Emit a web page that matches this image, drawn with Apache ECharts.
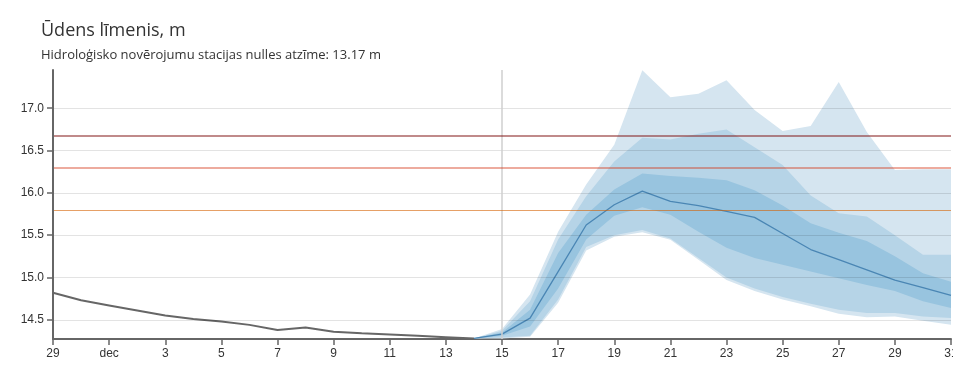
<!DOCTYPE html>
<html>
<head>
<meta charset="utf-8">
<script src="https://cdn.jsdelivr.net/npm/echarts@6/dist/echarts.min.js"></script>
<style>
html,body{margin:0;padding:0;background:#fff;}
#chart{width:953px;height:370px;}
</style>
</head>
<body>
<div id="chart"></div>
<script>
// Days shown on the x axis (Nov 29 .. Dec 31)
const days = ['11-29','11-30','12-01','12-02','12-03','12-04','12-05','12-06','12-07','12-08','12-09','12-10','12-11','12-12','12-13','12-14','12-15','12-16','12-17','12-18','12-19','12-20','12-21','12-22','12-23','12-24','12-25','12-26','12-27','12-28','12-29','12-30','12-31'];
const monthNames = {'12':'dec','01':'jan','11':'nov'};

// Observed water level Nov 29 .. Dec 14
const observed = [14.82,14.73,14.67,14.61,14.55,14.51,14.48,14.44,14.38,14.41,14.36,14.34,14.325,14.31,14.295,14.28];

// Forecast Dec 14 .. Dec 31
const forecastStart = 15;
const median  = [14.28,14.33,14.52,15.07,15.62,15.86,16.02,15.90,15.85,15.78,15.71,15.52,15.33,15.21,15.09,14.97,14.88,14.79];
const outerHi = [14.28,14.39,14.80,15.54,16.10,16.57,17.45,17.13,17.17,17.33,16.98,16.73,16.79,17.31,16.72,16.27,16.28,16.28];
const midHi   = [14.28,14.37,14.72,15.45,15.96,16.37,16.65,16.63,16.70,16.75,16.54,16.33,15.97,15.76,15.72,15.50,15.27,15.27];
const innerHi = [14.28,14.35,14.62,15.29,15.74,16.04,16.23,16.20,16.18,16.15,16.03,15.85,15.64,15.53,15.43,15.25,15.05,14.95];
const innerLo = [14.28,14.31,14.42,14.87,15.45,15.73,15.83,15.74,15.54,15.35,15.23,15.15,15.07,14.99,14.91,14.84,14.72,14.64];
const midLo   = [14.28,14.29,14.31,14.74,15.36,15.50,15.56,15.46,15.23,15.00,14.87,14.77,14.69,14.62,14.58,14.58,14.54,14.52];
const outerLo = [14.28,14.28,14.30,14.70,15.32,15.48,15.535,15.445,15.21,14.97,14.84,14.74,14.66,14.57,14.53,14.54,14.49,14.44];

// Threshold levels
const thresholds = [16.67, 16.30, 15.79];
const thresholdColors = ['rgba(129,21,21,0.5)','rgba(213,53,20,0.55)','rgba(213,97,0,0.6)'];
const thresholdWidths = [2, 1.5, 1.2];
const todayIndex = 16;

const yMin = 14.273, yMax = 17.452;

function pad(arr){ const out = new Array(forecastStart).fill('-'); return out.concat(arr); }
function diff(a,b){ return a.map((v,i)=>+(v-b[i]).toFixed(4)); }

function band(name, lo, hi, color){
  return [
    {type:'line', name:name+'Lo', stack:name, data:pad(lo), symbol:'none', silent:true,
     lineStyle:{width:0, opacity:0}, z:2},
    {type:'line', name:name+'Hi', stack:name, data:pad(diff(hi,lo)), symbol:'none', silent:true,
     lineStyle:{width:0, opacity:0}, areaStyle:{color:color, opacity:1}, z:2}
  ];
}

const chart = echarts.init(document.getElementById('chart'), null, {renderer:'canvas'});
const fontUI = '"Open Sans", "Noto Sans", sans-serif';
const fontAxis = '"Liberation Sans", Arial, sans-serif';

const option = {
  animation:false,
  backgroundColor:'#fff',
  title:{
    text:'Ūdens līmenis, m',
    subtext:'Hidroloģisko novērojumu stacijas nulles atzīme: 13.17 m',
    left:36, top:17, itemGap:9,
    textStyle:{fontSize:18, fontWeight:'normal', color:'#333', fontFamily:fontUI},
    subtextStyle:{fontSize:13, color:'#333', fontFamily:fontUI}
  },
  grid:{left:53, right:2, top:70, bottom:31, containLabel:false, outerBoundsMode:'none'},
  xAxis:{
    type:'category', data:days, boundaryGap:false,
    axisLine:{lineStyle:{color:'#666', width:2}},
    axisTick:{show:true, interval:1, length:6, lineStyle:{color:'#666', width:1.5}},
    axisLabel:{interval:1, margin:9, color:'#333', fontSize:12, fontFamily:fontAxis, hideOverlap:false,
      formatter:function(v){ const p=v.split('-'); return p[1]==='01' ? monthNames[p[0]] : String(+p[1]); }},
    splitLine:{show:false}
  },
  yAxis:{
    type:'value', min:yMin, max:yMax, splitNumber:6, minInterval:0.5, maxInterval:0.5, z:5,
    axisLine:{show:true, lineStyle:{color:'#666', width:2}},
    axisTick:{show:true, length:6, lineStyle:{color:'#666', width:1.5}},
    axisLabel:{showMinLabel:false, showMaxLabel:false, margin:9, color:'#333', fontSize:12, fontFamily:fontAxis,
      formatter:function(v){ return v.toFixed(1); }},
    splitLine:{show:true, showMinLine:false, showMaxLine:false, lineStyle:{color:'rgba(0,0,0,0.11)', width:1}}
  },
  series:[].concat(
    band('outer', outerLo, outerHi, '#d5e5f0'),
    band('mid', midLo, midHi, '#b6d4e7'),
    band('inner', innerLo, innerHi, '#98c4df'),
    [
      {type:'line', name:'observed', data:observed, symbol:'none', silent:true, z:3,
       lineStyle:{color:'#666666', width:2}},
      {type:'line', name:'median', data:pad(median), symbol:'none', silent:true, z:4,
       lineStyle:{color:'#4a86b4', width:1.3},
       markLine:{silent:true, symbol:'none', label:{show:false}, animation:false,
         data:[{xAxis:todayIndex, lineStyle:{color:'#cfcfcf', width:1.5, type:'solid'}}]
           .concat(thresholds.map((t,i)=>({yAxis:t, lineStyle:{color:thresholdColors[i], width:thresholdWidths[i], type:'solid'}})))}
      }
    ]
  )
};
chart.setOption(option);
</script>
</body>
</html>
